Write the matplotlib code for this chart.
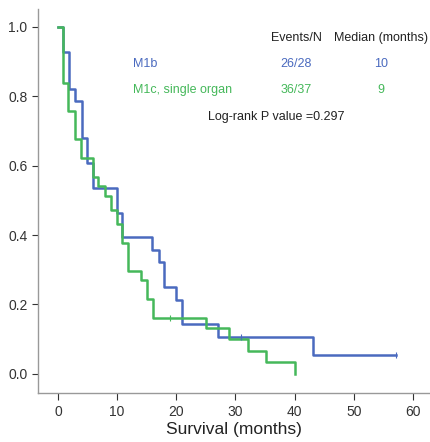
import matplotlib
matplotlib.use("Agg")
import matplotlib.pyplot as plt

plt.rcParams['font.family'] = ['Liberation Sans', 'DejaVu Sans']

# Kaplan-Meier steps
m1b_time = [0, 0.9, 1.9, 2.9, 4.0, 4.95, 5.9, 9.9, 10.9, 15.9, 17.0, 17.9,
            20.0, 21.0, 27.0, 43.1, 57.2]
m1b_surv = [1.0, 0.929, 0.821, 0.786, 0.679, 0.607, 0.536, 0.464, 0.393, 0.357,
            0.321, 0.25, 0.214, 0.143, 0.107, 0.055, 0.055]
m1b_cens_t = [31.0, 57.2]
m1b_cens_s = [0.107, 0.055]

m1c_time = [0, 0.9, 1.75, 2.9, 3.9, 6.0, 6.8, 7.9, 9.0, 9.9, 10.9, 11.9, 14.0,
            15.0, 16.0, 25.0, 29.0, 32.1, 35.1, 40.0]
m1c_surv = [1.0, 0.838, 0.757, 0.676, 0.622, 0.568, 0.541, 0.514, 0.473, 0.432,
            0.378, 0.297, 0.270, 0.216, 0.162, 0.133, 0.100, 0.066, 0.034, 0.0]
m1c_cens_t = [18.9]
m1c_cens_s = [0.162]

groups = ["M1b", "M1c, single organ"]
events_n = ["26/28", "36/37"]
medians = ["10", "9"]
p_text = "Log-rank P value =0.297"

blue = '#4a6abf'
green = '#45b85a'

fig = plt.figure(figsize=(4.3, 4.42), dpi=100)
ax = fig.add_axes([0.088, 0.111, 0.912, 0.869])

ax.step(m1c_time, m1c_surv, where='post', color=green, lw=1.8, zorder=3)
ax.step(m1b_time, m1b_surv, where='post', color=blue, lw=1.8, zorder=2)
ax.plot(m1b_cens_t, m1b_cens_s, '|', color=blue, ms=5, mew=0.8, zorder=4)
ax.plot(m1c_cens_t, m1c_cens_s, '|', color=green, ms=5, mew=0.8, zorder=4)

ax.set_xlim(-3.4, 62.9)
ax.set_ylim(-0.055, 1.052)
ax.set_xticks([0, 10, 20, 30, 40, 50, 60])
ax.set_yticks([0.0, 0.2, 0.4, 0.6, 0.8, 1.0])
ax.set_yticklabels(['0.0', '0.2', '0.4', '0.6', '0.8', '1.0'])
ax.tick_params(labelsize=10, colors='#333333', length=4, width=0.8)
ax.tick_params(axis='x', length=5)
for s in ['top', 'right']:
    ax.spines[s].set_visible(False)
for s in ['left', 'bottom']:
    ax.spines[s].set_color('#999999')
    ax.spines[s].set_linewidth(1.0)
ax.set_xlabel("Survival (months)", fontsize=12.5, color='#222222', labelpad=2)

tr = ax.transAxes
def fx(px):
    return (px - 38) / (430 - 38)
def fy(py):
    return (393 - py) / (393 - 9)

fs = 9
ax.text(fx(296), fy(38), "Events/N", fontsize=fs, ha='center', va='center', color='#222222', transform=tr)
ax.text(fx(381), fy(38), "Median (months)", fontsize=fs, ha='center', va='center', color='#222222', transform=tr)
for i, (g, c) in enumerate(zip(groups, [blue, green])):
    y = fy(64 + 26 * i)
    ax.text(fx(133), y, g, fontsize=fs, ha='left', va='center', color=c, transform=tr)
    ax.text(fx(296), y, events_n[i], fontsize=fs, ha='center', va='center', color=c, transform=tr)
    ax.text(fx(381), y, medians[i], fontsize=fs, ha='center', va='center', color=c, transform=tr)
ax.text(fx(208), fy(117), p_text, fontsize=fs, ha='left', va='center', color='#222222', transform=tr)

fig.savefig("out.png", dpi=100)
